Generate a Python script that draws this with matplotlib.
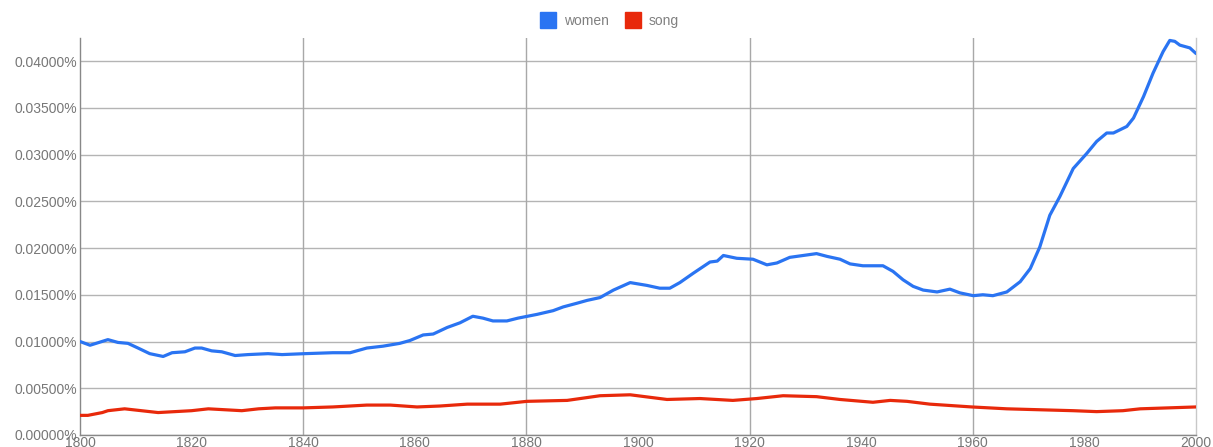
import matplotlib
matplotlib.use("Agg")
import matplotlib.pyplot as plt
from matplotlib.lines import Line2D
from matplotlib.ticker import FuncFormatter

# values in percent
women_years = [1800, 1801.8, 1805, 1806.8, 1808.6, 1810.4, 1812.5, 1814.9, 1816.5, 1818.8,
               1820.6, 1821.8, 1823.6, 1825.4, 1827.8, 1830.1, 1833.7, 1836.2, 1840.3, 1845.3,
               1848.4, 1851.4, 1854.3, 1857.3, 1859.1, 1861.5, 1863.3, 1865.8, 1868.1, 1870.4,
               1872.2, 1874.0, 1876.5, 1878.5, 1881.9, 1884.8, 1886.6, 1889.1, 1890.9, 1893.2,
               1895.6, 1898.6, 1901.6, 1903.9, 1905.7, 1907.5, 1909.9, 1912.9, 1914.2, 1915.3,
               1917.7, 1920.6, 1923.1, 1924.9, 1927.2, 1929.6, 1932.0, 1933.9, 1936.2, 1938.0,
               1940.3, 1943.9, 1945.7, 1947.5, 1949.3, 1951.1, 1953.6, 1955.9, 1957.7, 1960.1,
               1961.8, 1963.6, 1966.1, 1968.5, 1970.3, 1972.0, 1973.8, 1975.6, 1978.0, 1980.4,
               1982.2, 1984.0, 1985.2, 1987.6, 1988.8, 1990.6, 1992.3, 1994.1, 1995.3, 1996.2,
               1997.1, 1998.9, 2000]
women_vals = [0.0100, 0.0096, 0.0102, 0.0099, 0.0098, 0.0093, 0.0087, 0.0084, 0.0088, 0.0089,
              0.0093, 0.0093, 0.0090, 0.0089, 0.0085, 0.0086, 0.0087, 0.0086, 0.0087, 0.0088,
              0.0088, 0.0093, 0.0095, 0.0098, 0.0101, 0.0107, 0.0108, 0.0115, 0.0120, 0.0127,
              0.0125, 0.0122, 0.0122, 0.0125, 0.0129, 0.0133, 0.0137, 0.0141, 0.0144, 0.0147,
              0.0155, 0.0163, 0.0160, 0.0157, 0.0157, 0.0163, 0.0173, 0.0185, 0.0186, 0.0192,
              0.0189, 0.0188, 0.0182, 0.0184, 0.0190, 0.0192, 0.0194, 0.0191, 0.0188, 0.0183,
              0.0181, 0.0181, 0.0175, 0.0166, 0.0159, 0.0155, 0.0153, 0.0156, 0.0152, 0.0149,
              0.0150, 0.0149, 0.0153, 0.0164, 0.0178, 0.0201, 0.0235, 0.0255, 0.0285, 0.0301,
              0.0314, 0.0323, 0.0323, 0.0330, 0.0339, 0.0362, 0.0387, 0.0410, 0.0422, 0.0421,
              0.0417, 0.0414, 0.0408]

song_years = [1800, 1801.4, 1804, 1805, 1808, 1811, 1814, 1817, 1820, 1823, 1826, 1829, 1832,
              1835, 1840, 1845.3, 1851.4, 1855.6, 1860.4, 1864.5, 1869.4, 1875.3, 1880.1,
              1887.3, 1893.2, 1898.6, 1905.2, 1911.1, 1917.0, 1921.3, 1926, 1932, 1936.2,
              1942.1, 1945.2, 1948.2, 1952.3, 1959.8, 1966.1, 1972, 1978, 1982.2, 1986.9,
              1990, 2000]
song_vals = [0.0021, 0.0021, 0.0024, 0.0026, 0.0028, 0.0026, 0.0024, 0.0025, 0.0026, 0.0028,
             0.0027, 0.0026, 0.0028, 0.0029, 0.0029, 0.0030, 0.0032, 0.0032, 0.0030, 0.0031,
             0.0033, 0.0033, 0.0036, 0.0037, 0.0042, 0.0043, 0.0038, 0.0039, 0.0037, 0.0039,
             0.0042, 0.0041, 0.0038, 0.0035, 0.0037, 0.0036, 0.0033, 0.0030, 0.0028, 0.0027,
             0.0026, 0.0025, 0.0026, 0.0028, 0.0030]

series_names = ["women", "song"]
colors = ["#2a74f2", "#e8290b"]
y_ticks = [0.0, 0.005, 0.01, 0.015, 0.02, 0.025, 0.03, 0.035, 0.04]
x_ticks = list(range(1800, 2001, 20))
grid_years = [1840, 1880, 1920, 1960]

plt.rcParams["font.family"] = ["Liberation Sans", "DejaVu Sans"]

fig = plt.figure(figsize=(12.13, 4.47), dpi=100)
ax = fig.add_axes([80 / 1213, 1 - 435 / 447, (1196 - 80) / 1213, (435 - 38) / 447])

ax.plot(women_years, women_vals, color=colors[0], lw=2.3, solid_capstyle="round",
        solid_joinstyle="round", zorder=3)
ax.plot(song_years, song_vals, color=colors[1], lw=2.3, solid_capstyle="round",
        solid_joinstyle="round", zorder=3)

ax.set_xlim(1800, 2000)
ax.set_ylim(0, 0.04246)
ax.set_yticks(y_ticks)
ax.yaxis.set_major_formatter(FuncFormatter(lambda v, p: "%.5f%%" % v))
ax.set_xticks(x_ticks)

ax.grid(axis="y", color="#b4b4b4", lw=1)
for yr in grid_years:
    ax.axvline(yr, color="#a8a8a8", lw=1, zorder=1)
ax.set_axisbelow(True)

ax.spines["top"].set_visible(False)
ax.spines["right"].set_color("#c8c8c8")
ax.spines["left"].set_color("#888888")
ax.spines["bottom"].set_color("#888888")
for s in ax.spines.values():
    s.set_linewidth(1)

ax.tick_params(axis="both", length=0, labelsize=10, labelcolor="#777777")
ax.tick_params(axis="y", pad=2)
ax.tick_params(axis="x", pad=1)

handles = [Line2D([], [], ls="none", marker="s", markersize=11, color=c) for c in colors]
fig.legend(handles, series_names, loc="center", bbox_to_anchor=(0.503, 0.953), ncol=2,
           frameon=False, fontsize=10, labelcolor="#808080", handletextpad=0.6,
           columnspacing=1.3, handlelength=1.0)

fig.savefig("out.png", dpi=100, facecolor="white")
